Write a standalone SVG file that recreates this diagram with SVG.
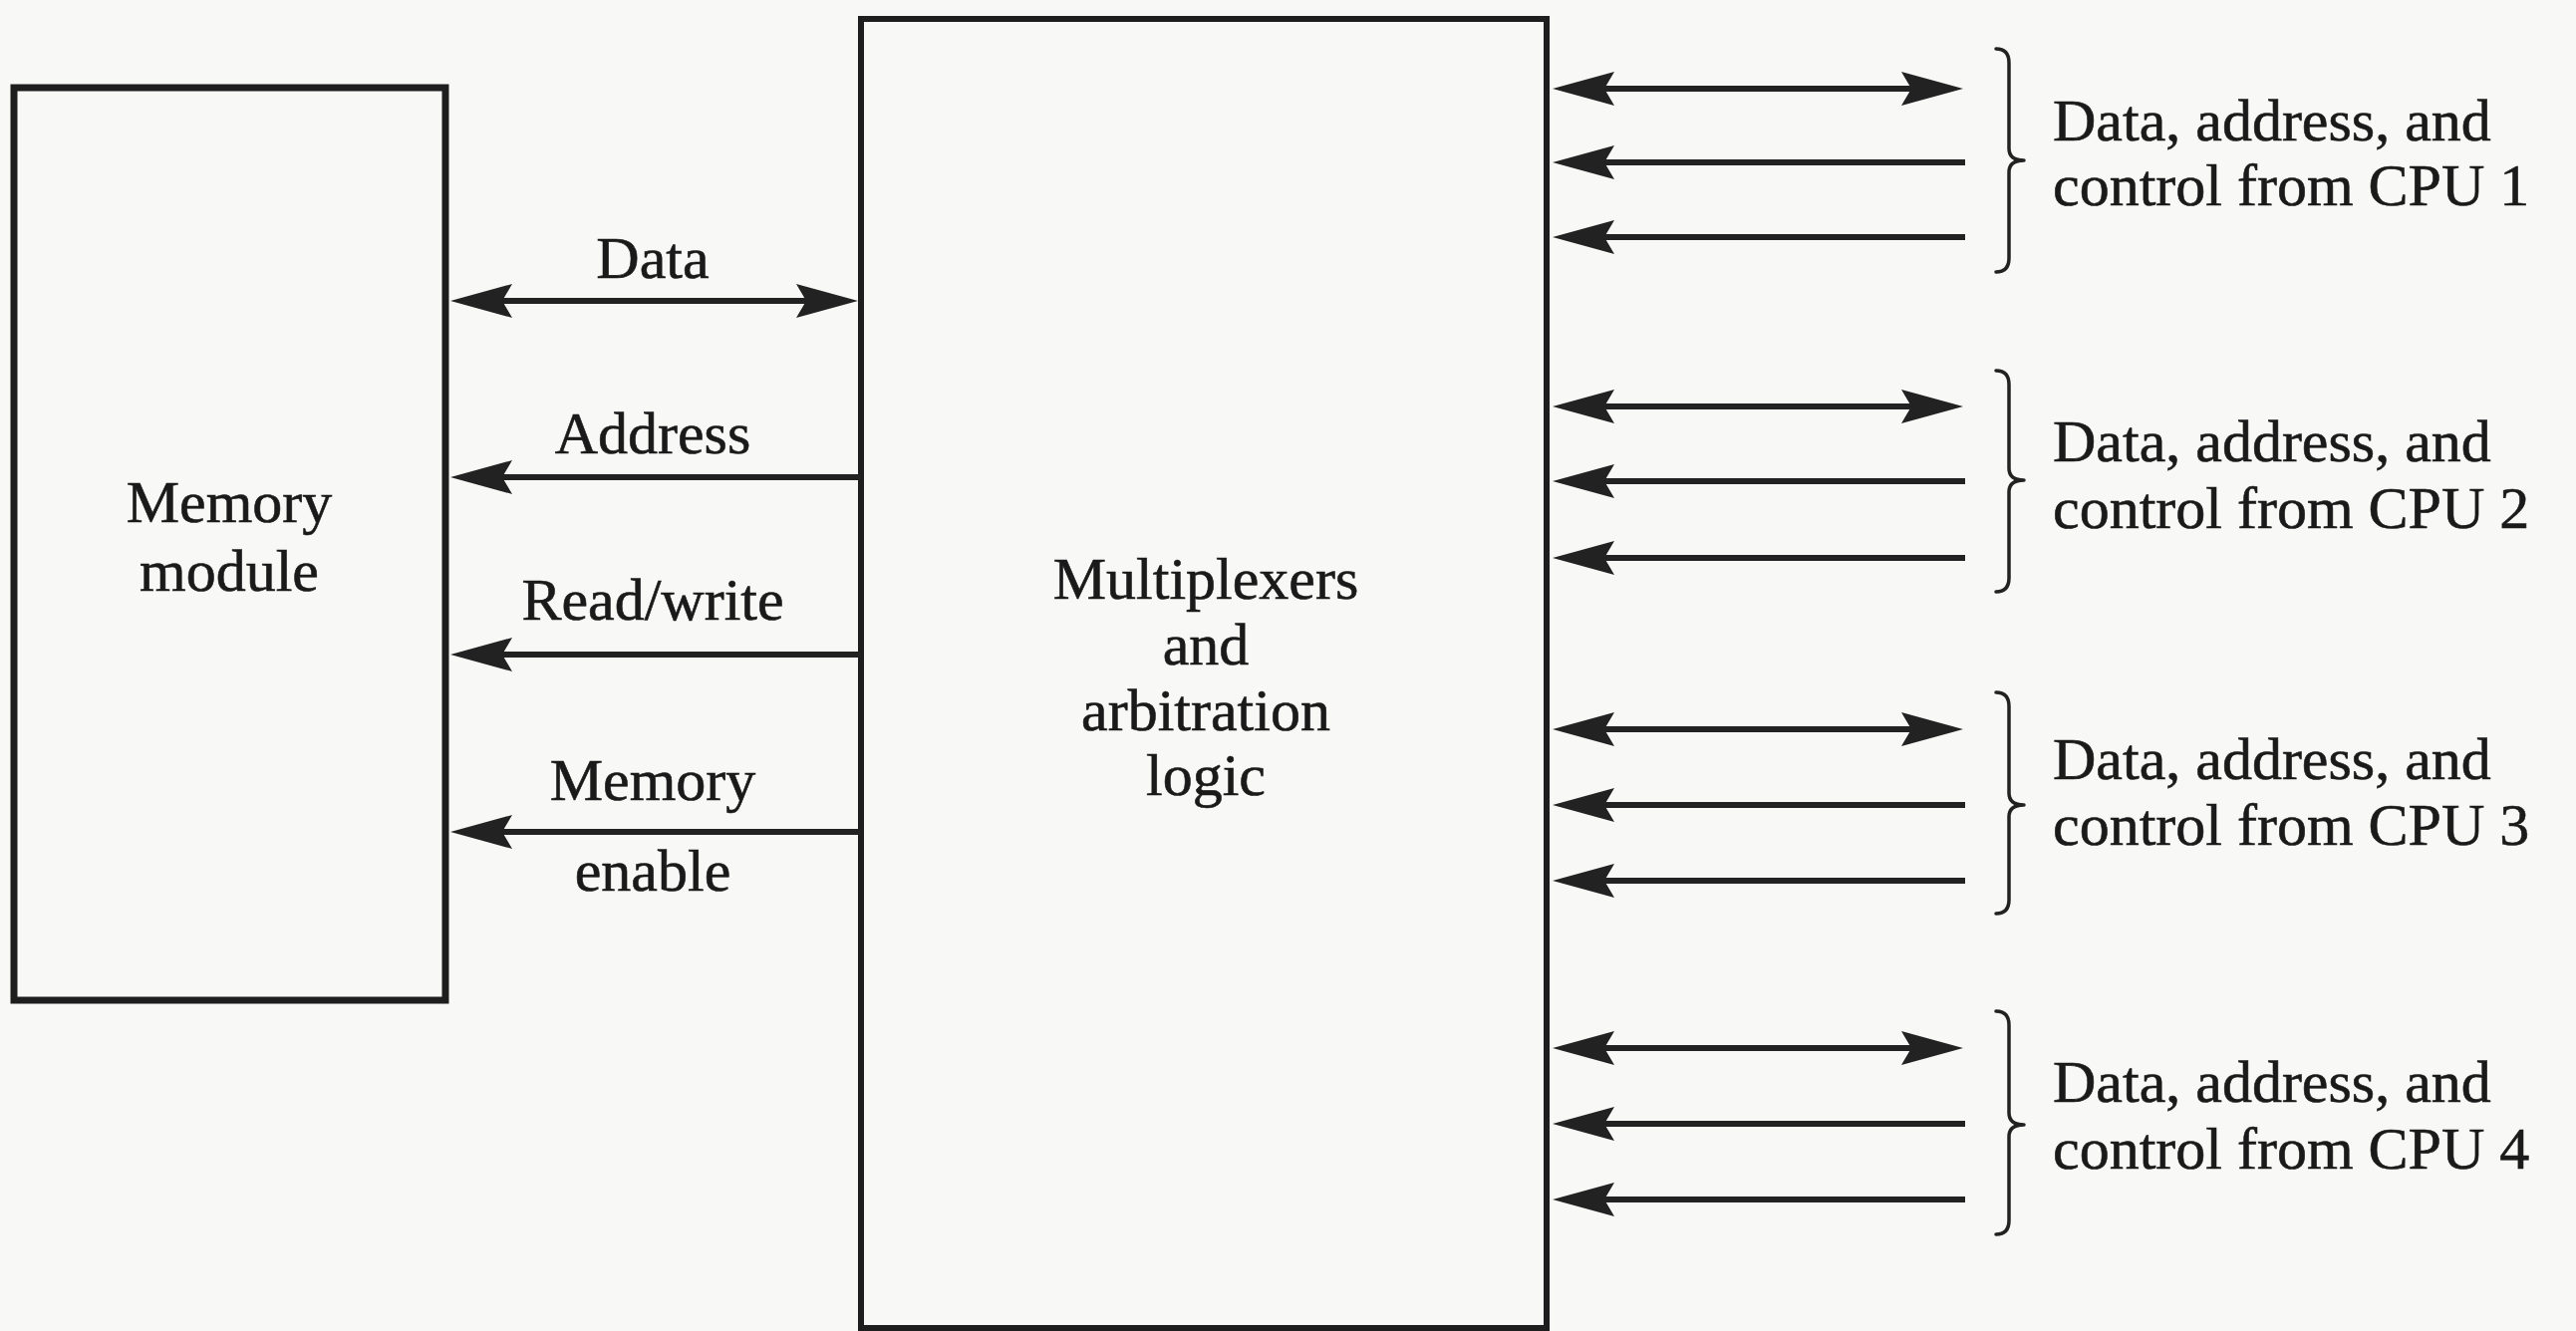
<svg xmlns="http://www.w3.org/2000/svg" width="2585" height="1336" viewBox="0 0 2585 1336">
  <style>
    .box { fill: none; stroke: #1e1e1e; }
    .wire { fill: none; stroke: #222; stroke-width: 6; }
    .brace { fill: none; stroke: #222; stroke-width: 3.5; stroke-linecap: round; stroke-linejoin: round; }
    text { font-family: "Liberation Serif", "Times New Roman", serif; font-size: 60px; fill: #1a1a1a; stroke: #1a1a1a; stroke-width: 0.6; }
    .c { text-anchor: middle; }
  </style>
  <defs>
    <marker id="ah" viewBox="0 0 62 36" markerWidth="62" markerHeight="36" refX="42" refY="18" markerUnits="userSpaceOnUse" orient="auto-start-reverse">
      <path d="M62,18 L0,1 L10,18 L0,35 Z" fill="#222"/>
    </marker>
  </defs>
  <rect x="0" y="0" width="2585" height="1336" fill="#f8f8f6"/>

  <g id="memory-module">
    <rect class="box" x="14" y="88" width="433" height="916" stroke-width="7"/>
    <text class="c" x="230" y="524">Memory</text>
    <text class="c" x="230" y="593">module</text>
  </g>

  <g id="mux-arbitration">
    <rect class="box" x="864" y="19" width="688" height="1314" stroke-width="6"/>
    <text class="c" x="1210" y="601">Multiplexers</text>
    <text class="c" x="1210" y="667">and</text>
    <text class="c" x="1210" y="733">arbitration</text>
    <text class="c" x="1210" y="798">logic</text>
  </g>

  <g id="connectors">
    <path class="wire" d="M472,302 H841" marker-start="url(#ah)" marker-end="url(#ah)"/>
    <path class="wire" d="M864,479 H472" marker-end="url(#ah)"/>
    <path class="wire" d="M864,657 H472" marker-end="url(#ah)"/>
    <path class="wire" d="M864,835 H472" marker-end="url(#ah)"/>

    <path class="wire" d="M1578,89 H1950" marker-start="url(#ah)" marker-end="url(#ah)"/>
    <path class="wire" d="M1972,163 H1578" marker-end="url(#ah)"/>
    <path class="wire" d="M1972,238 H1578" marker-end="url(#ah)"/>

    <path class="wire" d="M1578,408 H1950" marker-start="url(#ah)" marker-end="url(#ah)"/>
    <path class="wire" d="M1972,483 H1578" marker-end="url(#ah)"/>
    <path class="wire" d="M1972,560 H1578" marker-end="url(#ah)"/>

    <path class="wire" d="M1578,732 H1950" marker-start="url(#ah)" marker-end="url(#ah)"/>
    <path class="wire" d="M1972,808 H1578" marker-end="url(#ah)"/>
    <path class="wire" d="M1972,884 H1578" marker-end="url(#ah)"/>

    <path class="wire" d="M1578,1052 H1950" marker-start="url(#ah)" marker-end="url(#ah)"/>
    <path class="wire" d="M1972,1128 H1578" marker-end="url(#ah)"/>
    <path class="wire" d="M1972,1204 H1578" marker-end="url(#ah)"/>
  </g>

  <g id="edge-labels">
    <text class="c" x="655" y="279">Data</text>
    <text class="c" x="655" y="455">Address</text>
    <text class="c" x="655" y="622">Read/write</text>
    <text class="c" x="655" y="803">Memory</text>
    <text class="c" x="655" y="894">enable</text>
  </g>

  <g id="cpu1">
    <path class="brace" d="M2003,49 Q2016,49 2016,63 L2016,149 Q2016,161 2031,161 Q2016,161 2016,173 L2016,259 Q2016,273 2003,273"/>
    <text x="2060" y="141">Data, address, and</text>
    <text x="2060" y="206">control from CPU 1</text>
  </g>
  <g id="cpu2">
    <path class="brace" d="M2003,372 Q2016,372 2016,386 L2016,470 Q2016,482 2031,482 Q2016,482 2016,494 L2016,580 Q2016,594 2003,594"/>
    <text x="2060" y="463">Data, address, and</text>
    <text x="2060" y="530">control from CPU 2</text>
  </g>
  <g id="cpu3">
    <path class="brace" d="M2003,695 Q2016,695 2016,709 L2016,796 Q2016,808 2031,808 Q2016,808 2016,820 L2016,903 Q2016,917 2003,917"/>
    <text x="2060" y="782">Data, address, and</text>
    <text x="2060" y="848">control from CPU 3</text>
  </g>
  <g id="cpu4">
    <path class="brace" d="M2003,1015 Q2016,1015 2016,1029 L2016,1117 Q2016,1129 2031,1129 Q2016,1129 2016,1141 L2016,1225 Q2016,1239 2003,1239"/>
    <text x="2060" y="1106">Data, address, and</text>
    <text x="2060" y="1173">control from CPU 4</text>
  </g>
</svg>
